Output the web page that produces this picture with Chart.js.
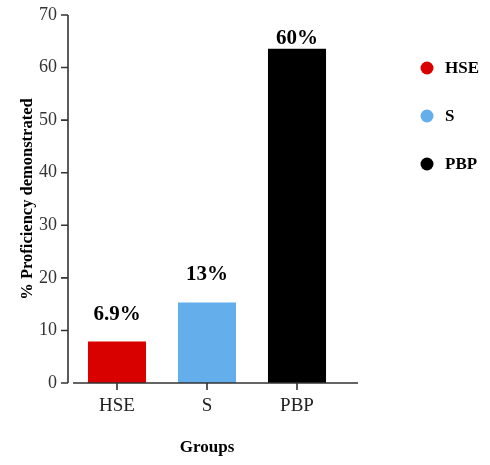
<!DOCTYPE html>
<html>
<head>
<meta charset="utf-8">
<script src="https://cdn.jsdelivr.net/npm/chart.js@4/dist/chart.umd.min.js"></script>
<style>
  body { margin: 0; background: #fff; }
  canvas { display: block; }
</style>
</head>
<body>
<canvas id="barChart" width="490" height="465"></canvas>
<script>
// values
const groups = ["HSE", "S", "PBP"];
const proficiency = [7.9, 15.3, 63.6];
const barLabels = ["6.9%", "13%", "60%"];
const barColors = ["#d90000", "#63aeeb", "#000000"];
const yMax = 70;
const yStep = 10;

const serif = "'Liberation Serif', 'Times New Roman', serif";
const axisColor = "#333333";

// GraphPad-style offset axes
const axesPlugin = {
  id: "axesPlugin",
  afterDatasetsDraw(chart) {
    const c = chart.ctx, x = chart.scales.x, y = chart.scales.y;
    const area = chart.chartArea;
    const ax = area.left - 4;
    const y0 = y.getPixelForValue(0);
    c.save();
    c.strokeStyle = axisColor;
    c.lineWidth = 1.6;
    c.beginPath();
    c.moveTo(ax, y.getPixelForValue(yMax));
    c.lineTo(ax, y0);
    y.ticks.forEach(t => {
      const ty = y.getPixelForValue(t.value);
      c.moveTo(ax - 7, ty);
      c.lineTo(ax, ty);
    });
    c.moveTo(area.left + 1, y0);
    c.lineTo(area.right + 16, y0);
    groups.forEach((g, i) => {
      const tx = x.getPixelForValue(i);
      c.moveTo(tx, y0);
      c.lineTo(tx, y0 + 7);
    });
    c.stroke();
    c.restore();
  }
};

// percentage labels above the bars
const valueLabels = {
  id: "valueLabels",
  afterDatasetsDraw(chart, args, opts) {
    const c = chart.ctx;
    const meta = chart.getDatasetMeta(0);
    c.save();
    c.font = "bold 21px " + serif;
    c.fillStyle = "#000";
    c.textAlign = "center";
    c.textBaseline = "alphabetic";
    meta.data.forEach((bar, i) => {
      c.fillText(barLabels[i], bar.x, bar.y - opts.gaps[i]);
    });
    c.restore();
  }
};

// legend with round markers on the right
const sideLegend = {
  id: "sideLegend",
  afterDraw(chart, args, opts) {
    const c = chart.ctx;
    c.save();
    c.font = "bold 17px " + serif;
    c.textBaseline = "middle";
    groups.forEach((g, i) => {
      const ly = opts.top + i * opts.step;
      c.fillStyle = barColors[i];
      c.beginPath();
      c.arc(opts.left, ly, 6.5, 0, Math.PI * 2);
      c.fill();
      c.fillStyle = "#000";
      c.fillText(g, opts.left + 18, ly + 1);
    });
    c.restore();
  }
};

new Chart(document.getElementById("barChart"), {
  type: "bar",
  data: {
    labels: groups,
    datasets: [{
      data: proficiency,
      backgroundColor: barColors,
      borderWidth: 0,
      categoryPercentage: 1,
      barPercentage: 0.645
    }]
  },
  options: {
    responsive: false,
    animation: false,
    layout: { padding: { top: 15, right: 148, left: 0, bottom: 0 } },
    plugins: {
      legend: { display: false },
      tooltip: { enabled: false },
      valueLabels: { gaps: [21, 23, 5] },
      sideLegend: { left: 427, top: 68, step: 48 }
    },
    scales: {
      x: {
        grid: { display: false, drawTicks: false },
        border: { display: false },
        ticks: { color: "#222", padding: 12, font: { family: serif, size: 19 } },
        title: {
          display: true, text: "Groups", color: "#000",
          font: { family: serif, size: 17, weight: "bold" },
          padding: { top: 0, bottom: 7 }
        },
        afterFit(scale) { scale.height = 82; }
      },
      y: {
        min: 0, max: yMax,
        grid: { display: false, drawTicks: false },
        border: { display: false },
        ticks: { stepSize: yStep, color: "#333", padding: 15, font: { family: serif, size: 18 } },
        title: {
          display: true, text: "% Proficiency demonstrated", color: "#000",
          font: { family: serif, size: 16.5, weight: "bold" },
          padding: { top: 18, bottom: 0 }
        },
        afterFit(scale) {
          scale.width = 72;
          scale.paddingTop = 0;
          scale.paddingBottom = 0;
        }
      }
    }
  },
  plugins: [axesPlugin, valueLabels, sideLegend]
});
</script>
</body>
</html>
